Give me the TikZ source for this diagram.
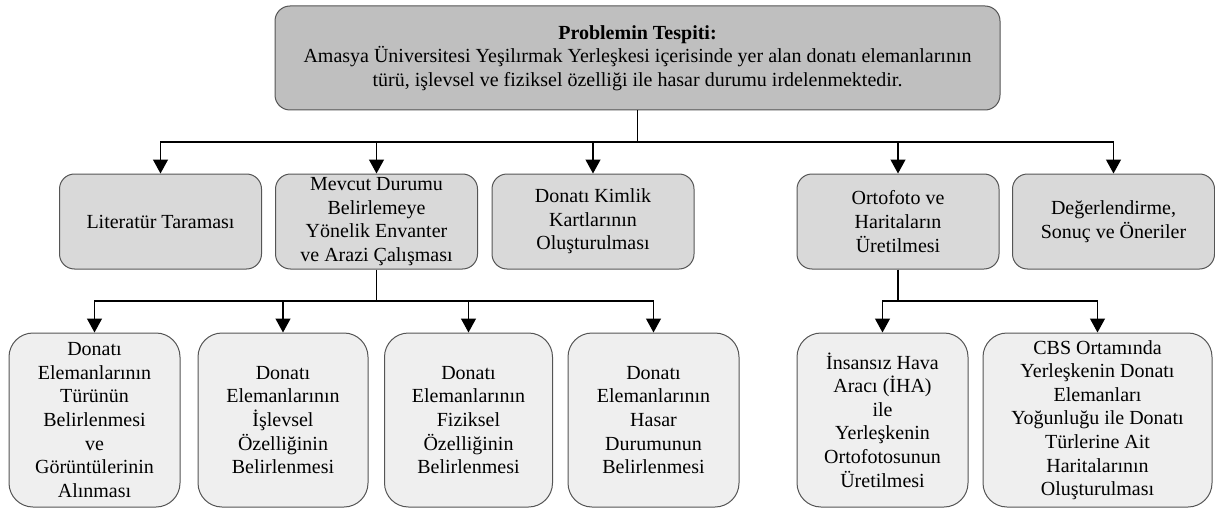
\documentclass[tikz,border=0pt]{standalone}
\usepackage{fontspec}
\setmainfont{Liberation Serif}
\usetikzlibrary{arrows.meta}
\definecolor{kenar}{HTML}{555555}
\definecolor{griA}{HTML}{BFBFBF}
\definecolor{griB}{HTML}{D9D9D9}
\definecolor{griC}{HTML}{EFEFEF}
\tikzset{>/.tip={Triangle[length=14pt,width=15pt]}}

\begin{document}
\begin{tikzpicture}[x=1pt,y=-1pt,
  kutu/.style={draw=kenar, line width=1pt, rounded corners=15pt, align=center,
    inner sep=0pt, font=\fontsize{20}{23.6}\selectfont},
  ustkutu/.style={kutu, fill=griA, minimum width=725pt, minimum height=104pt},
  ortakutu/.style={kutu, fill=griB, minimum width=202pt, minimum height=95pt},
  altkutu/.style={kutu, fill=griC, rounded corners=24pt, minimum height=174pt},
  bag/.style={line width=1.3pt}]
\useasboundingbox (0,0) rectangle (1215,508);

\node[ustkutu] (tespit) at (637.5,58) {\textbf{Problemin Tespiti:}\\
  Amasya Üniversitesi Yeşilırmak Yerleşkesi içerisinde yer alan donatı elemanlarının\\
  türü, işlevsel ve fiziksel özelliği ile hasar durumu irdelenmektedir.};

% ikinci sira
\node[ortakutu] (literatur) at (160.5,221.5) {Literatür Taraması};
\node[ortakutu] (mevcut) at (376.5,221.5) {Mevcut Durumu\\Belirlemeye\\Yönelik Envanter\\ve Arazi Çalışması};
\node[ortakutu] (kimlik) at (593,221.5) {Donatı Kimlik\\Kartlarının\\Oluşturulması};
\node[ortakutu] (ortofoto) at (898,221.5) {Ortofoto ve\\Haritaların\\Üretilmesi};
\node[ortakutu] (sonuc) at (1113.5,221.5) {Değerlendirme,\\Sonuç ve Öneriler};

% ucuncu sira
\node[altkutu, minimum width=171pt] (tur) at (94.5,420) {Donatı\\Elemanlarının\\Türünün\\Belirlenmesi\\ve\\Görüntülerinin\\Alınması};
\node[altkutu, minimum width=170pt] (islev) at (283,420) {Donatı\\Elemanlarının\\İşlevsel\\Özelliğinin\\Belirlenmesi};
\node[altkutu, minimum width=168pt] (fizik) at (468.5,420) {Donatı\\Elemanlarının\\Fiziksel\\Özelliğinin\\Belirlenmesi};
\node[altkutu, minimum width=171pt] (hasar) at (653.5,420) {Donatı\\Elemanlarının\\Hasar\\Durumunun\\Belirlenmesi};
\node[altkutu, minimum width=171pt] (iha) at (882.5,420) {İnsansız Hava\\Aracı (İHA)\\ile\\Yerleşkenin\\Ortofotosunun\\Üretilmesi};
\node[altkutu, minimum width=229pt] (cbs) at (1097.5,420) {CBS Ortamında\\Yerleşkenin Donatı\\Elemanları\\Yoğunluğu ile Donatı\\Türlerine Ait\\Haritalarının\\Oluşturulması};

\coordinate (dal1) at (637.5,142);
\coordinate (dal2) at (376.5,301);
\coordinate (dal3) at (898,301);

\draw[bag] (tespit) -- (dal1);
\foreach \k in {literatur,mevcut,kimlik,ortofoto,sonuc}
  \draw[bag,->] (dal1) -| (\k.north);
\draw[bag] (mevcut) -- (dal2);
\foreach \k in {tur,islev,fizik,hasar}
  \draw[bag,->] (dal2) -| (\k.north);
\draw[bag] (ortofoto) -- (dal3);
\foreach \k in {iha,cbs}
  \draw[bag,->] (dal3) -| (\k.north);
\end{tikzpicture}
\end{document}
